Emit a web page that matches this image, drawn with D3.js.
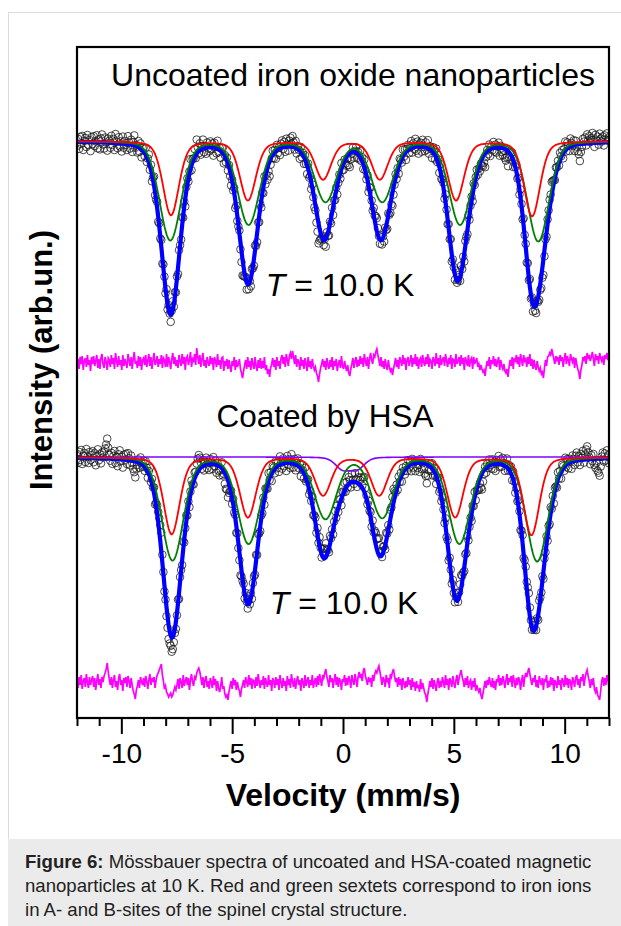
<!DOCTYPE html>
<html><head><meta charset="utf-8">
<script src="https://cdn.jsdelivr.net/npm/d3@7/dist/d3.min.js"></script>
<style>
body{margin:0;background:#fff;}
svg{display:block;}
</style></head><body>
<svg id="chart" width="621" height="926"></svg>
<script>
// ---------------- data ----------------
const velocityDomain = [-12, 12];          // mm/s
const majorTicks = [-10, -5, 0, 5, 10];
const tickLabels = ["-10", "-5", "0", "5", "10"];
const minorTicks = [-12,-11,-9,-8,-7,-6,-4,-3,-2,-1,1,2,3,4,6,7,8,9,11,12];
const intensityDomain = [0, 67.1];          // arb. units

const upperBaseline = 57.7;
const lowerBaseline = 26.1;
const upperResidualOffset = 35.6;
const lowerResidualOffset = 3.5;

// sextet A (red) & B (green), uncoated
const upperRedPos   = [-7.76, -4.29, -0.90, 1.66, 5.10, 8.53];
const upperRedDepth = [7.4, 5.9, 3.8, 3.8, 5.9, 7.5];
const upperGreenPos   = [-7.79, -4.26, -0.79, 1.77, 5.28, 8.81];
const upperGreenDepth = [9.9, 8.3, 6.0, 6.0, 8.3, 10.0];
// sextet A (red) & B (green) + doublet (purple), HSA coated
const lowerRedPos   = [-7.73, -4.29, -0.90, 1.63, 5.06, 8.50];
const lowerRedDepth = [7.7, 6.0, 3.8, 3.8, 6.0, 7.8];
const lowerGreenPos   = [-7.69, -4.26, -0.79, 1.77, 5.25, 8.76];
const lowerGreenDepth = [10.3, 8.6, 6.1, 6.0, 8.6, 10.4];
const lowerDoubletPos   = [-0.02, 0.64];
const lowerDoubletDepth = [1.15, 1.15];

// line widths (FWHM, mm/s) and Lorentzian fraction
const redWidth = 0.85, greenWidth = 1.15, doubletWidth = 0.78;
const redEta = 0.3, greenEta = 0.2, doubletEta = 0.3;

// residuals (tenths of an arb. unit), one per channel, + = up
const residualScale = 0.1;
const upperResidual = [
-4,3,-7,5,-2,6,-8,1,4,-5,7,-3,2,-9,5,-2,
6,-4,1,7,-6,3,-7,4,8,-2,-6,5,0,-8,4,2,
-5,7,-2,4,-7,9,1,-5,6,-3,2,-8,7,-4,3,-1,
-6,8,2,-4,5,-7,3,10,-2,1,-6,6,-4,5,-8,2,
4,-3,7,-5,1,8,-4,5,-7,2,9,-3,0,6,-5,3,
-2,7,-6,4,2,-5,8,-5,5,0,-7,3,9,-2,5,-4,
2,-6,7,1,-4,8,-2,5,-8,4,6,-3,2,10,-5,3,
1,8,-3,14,5,-2,7,-5,3,9,-4,2,-6,5,-1,-4,
6,-2,4,-8,5,1,-5,8,-3,2,-7,4,5,-9,1,-4,
3,-7,2,-5,-10,1,-4,5,-8,2,-5,-2,3,-7,-11,-16,
-9,-3,2,-7,5,-5,1,-8,4,-2,-7,5,-4,-9,2,-6,
4,-7,1,-6,5,-8,-3,-12,-7,-15,-6,-2,4,-5,2,-8,
5,-4,1,-7,4,7,-2,5,-5,8,2,-4,6,9,3,11,
5,-2,7,-5,3,0,-8,5,-4,2,-7,4,-2,-9,5,-5,
1,-7,3,-4,-8,-5,-11,-14,-20,-12,-6,-2,3,-5,1,-8,
4,-3,-7,2,-5,5,-8,1,-4,3,-9,-2,2,-6,6,-4,
-7,1,-5,-9,-3,-11,-14,-7,-2,4,-6,1,5,-5,2,-4,
6,-2,4,-5,8,1,-4,5,-7,3,9,2,-2,7,5,10,
13,7,2,-4,5,-5,1,-7,3,-4,-8,2,-5,-9,-6,-13,
-7,-2,4,-5,2,-7,5,1,-4,7,-2,4,-8,2,5,-4,
1,7,-5,4,-2,8,-4,5,-7,2,4,-5,7,0,-4,5,
-2,8,-5,3,1,-7,5,2,-4,9,-2,4,-6,7,-3,2,
5,-4,8,1,-5,4,-2,7,-7,3,2,-5,8,-2,1,5,
-4,7,-2,4,-8,5,1,-4,7,-5,2,4,-7,5,-2,1,
4,-5,-2,-8,-3,-7,-10,-8,-14,-5,1,-4,5,-7,2,-2,
6,-4,3,-5,1,5,-8,2,-4,-7,-2,-9,-11,-7,-15,-5,
2,-4,5,-7,4,0,7,-2,5,-5,8,2,-4,7,1,3,
-5,5,-2,8,-4,3,-7,2,-4,-8,1,-5,-9,-6,-12,-10,
-16,-6,2,-4,5,6,9,7,13,8,3,-2,6,2,5,-3,
7,1,5,-5,3,9,-2,6,2,-4,8,3,0,5,-6,4,
-2,-7,-10,-17,-8,-3,5,2,6,-2,9,3,7,1,5,10,
3,-4,8,2,6,-2,9,4,1,6,-3,7,3,9,2,5];
const lowerResidual = [
4,-5,6,-2,8,-6,2,5,-4,9,1,-5,6,-2,3,7,
-4,5,-7,2,9,-2,4,-5,6,1,7,10,14,20,11,4,
-2,6,-5,3,8,-4,2,-7,5,9,-2,3,-8,5,0,6,
-4,7,2,-5,5,-2,-8,-11,-16,-7,-3,3,-5,6,1,-2,
5,-4,7,2,-6,3,9,-2,5,1,6,-5,3,8,10,13,
16,19,8,2,-6,-3,-9,-11,-14,-12,-10,-14,-12,-8,-4,-7,
-2,4,-6,5,1,-5,8,-3,2,6,-2,5,-7,3,9,1,
-3,6,4,10,13,15,11,5,-2,6,-5,3,7,-4,2,-6,
5,1,-5,7,-2,4,-8,2,-5,-9,-3,6,-6,-3,-11,-14,
-12,-17,-9,-3,2,-6,5,-2,3,-7,1,-5,-8,-14,-6,-2,
3,-5,6,1,-4,8,-2,5,-6,3,2,-5,6,-3,9,1,
-5,3,-2,7,-6,5,0,-4,8,-2,3,-8,5,2,-5,6,
-2,4,-7,8,1,-5,5,-3,2,-8,7,-2,4,-5,9,1,
-4,5,-6,2,7,-2,3,-8,5,1,-5,8,-3,2,6,-5,
3,-2,8,-5,1,5,-4,7,-2,9,3,-3,8,5,10,14,
6,2,-4,8,1,5,-5,3,9,-2,6,-4,5,2,-7,4,
1,8,-3,5,-2,7,3,-5,8,2,-2,9,3,-4,6,11,
5,9,2,12,15,7,3,-2,6,1,5,-4,8,2,9,12,
10,14,17,11,5,-2,6,3,-4,8,2,5,-5,9,6,11,
14,7,1,5,-4,6,-2,4,-7,5,0,-5,2,-4,6,-2,
3,-7,5,-4,1,-8,2,-5,-2,-9,4,-6,0,-5,-10,-12,
-19,-11,-5,2,-4,5,-6,3,-2,-8,1,5,-5,2,-4,6,
1,-5,8,-2,4,-7,5,2,-4,7,0,-5,3,8,-2,5,
9,13,6,2,-4,5,-2,7,-5,1,3,-7,2,-4,5,-8,
-2,-6,-9,-5,-12,-16,-10,-4,2,-5,3,-2,6,0,-4,5,
-5,2,-7,4,1,8,-3,5,-2,7,2,-5,3,9,-2,5,
1,7,-4,8,2,-5,5,-2,6,3,-7,2,8,-4,5,10,
6,11,15,9,3,-2,5,1,8,-4,3,-5,7,2,-2,5,
-7,4,1,8,-5,2,-4,6,-2,5,-8,3,0,-5,7,-2,
3,-7,5,2,-4,8,-2,5,-5,4,1,-7,6,2,-4,5,
8,-2,4,-5,6,2,9,-3,5,10,13,7,2,-5,4,-2,
5,-6,-9,-4,-12,-14,-17,-8,2,6,-3,5,-2,8,3,-5];

// ---------------- drawing ----------------
const svg = d3.select("#chart");
const W = 621, H = 926;
const plot = {left: 77, right: 609, top: 47, bottom: 718};
const FONT = "'Liberation Sans', Arial, Helvetica, sans-serif";

// figure border + caption
svg.append("rect").attr("x", 8.5).attr("y", 12.5).attr("width", W).attr("height", H)
  .attr("fill", "#fff").attr("stroke", "#dcdcdc").attr("stroke-width", 1);
svg.append("rect").attr("x", 8).attr("y", 839).attr("width", W - 8).attr("height", H - 839)
  .attr("fill", "#ebebeb");

const x = d3.scaleLinear().domain(velocityDomain).range([plot.left, plot.right]);
const y = d3.scaleLinear().domain(intensityDomain).range([plot.bottom, plot.top]);

function channelVelocities(n) {
  const step = (velocityDomain[1] - velocityDomain[0]) / (n - 1);
  return d3.range(n).map(i => velocityDomain[0] + i * step);
}

function profile(v, v0, depth, w, eta) {
  const t = (v - v0) / (w / 2);
  const L = 1 / (1 + t * t);
  const G = Math.exp(-Math.LN2 * t * t);
  return depth * (eta * L + (1 - eta) * G);
}
function component(vel, pos, depth, w, eta) {
  return vel.map(v => d3.sum(pos, (p, k) => profile(v, p, depth[k], w, eta)));
}

svg.append("defs").append("clipPath").attr("id", "clip")
  .append("rect").attr("x", plot.left).attr("y", plot.top)
  .attr("width", plot.right - plot.left).attr("height", plot.bottom - plot.top);
const g = svg.append("g").attr("clip-path", "url(#clip)");

const line = d3.line().x(d => x(d[0])).y(d => y(d[1]));

function drawSpectrum(base, redPos, redDepth, greenPos, greenDepth, resid, residOffset, dPos, dDepth) {
  const vel = channelVelocities(resid.length);
  const red = component(vel, redPos, redDepth, redWidth, redEta);
  const green = component(vel, greenPos, greenDepth, greenWidth, greenEta);
  const doublet = dPos ? component(vel, dPos, dDepth, doubletWidth, doubletEta) : null;
  const total = vel.map((v, i) => base - red[i] - green[i] - (doublet ? doublet[i] : 0));
  const pts = vel.map((v, i) => [v, total[i] + resid[i] * residualScale]);

  g.append("g").selectAll("circle").data(pts).join("circle")
    .attr("cx", d => x(d[0])).attr("cy", d => y(d[1])).attr("r", 3.8)
    .attr("fill", "none").attr("stroke", "#1a1a1a").attr("stroke-width", 0.8);

  g.append("path").datum(vel.map((v, i) => [v, residOffset + resid[i] * residualScale]))
    .attr("d", line).attr("fill", "none").attr("stroke", "#ff00ff").attr("stroke-width", 1.7);

  if (doublet) {
    g.append("path").datum(vel.map((v, i) => [v, base - doublet[i]]))
      .attr("d", line).attr("fill", "none").attr("stroke", "#8000ff").attr("stroke-width", 1.6);
  }
  g.append("path").datum(vel.map((v, i) => [v, total[i]]))
    .attr("d", line).attr("fill", "none").attr("stroke", "#0000ff").attr("stroke-width", 4.2)
    .attr("stroke-linejoin", "round");
  g.append("path").datum(vel.map((v, i) => [v, base - green[i]]))
    .attr("d", line).attr("fill", "none").attr("stroke", "#008000").attr("stroke-width", 1.8);
  g.append("path").datum(vel.map((v, i) => [v, base - red[i]]))
    .attr("d", line).attr("fill", "none").attr("stroke", "#ff0000").attr("stroke-width", 1.8);
}

drawSpectrum(upperBaseline, upperRedPos, upperRedDepth, upperGreenPos, upperGreenDepth,
  upperResidual, upperResidualOffset);
drawSpectrum(lowerBaseline, lowerRedPos, lowerRedDepth, lowerGreenPos, lowerGreenDepth,
  lowerResidual, lowerResidualOffset, lowerDoubletPos, lowerDoubletDepth);

// frame
svg.append("rect").attr("x", plot.left).attr("y", plot.top)
  .attr("width", plot.right - plot.left).attr("height", plot.bottom - plot.top)
  .attr("fill", "none").attr("stroke", "#000").attr("stroke-width", 2.2);

// x axis
const axMinor = d3.axisBottom(x).tickValues(minorTicks).tickSize(8).tickFormat("");
const axMajor = d3.axisBottom(x).tickValues(majorTicks).tickSize(16)
  .tickFormat((d, i) => tickLabels[i]).tickPadding(9);
const gMinor = svg.append("g").attr("transform", `translate(0,${plot.bottom})`).call(axMinor);
const gMajor = svg.append("g").attr("transform", `translate(0,${plot.bottom})`).call(axMajor);
[gMinor, gMajor].forEach(a => {
  a.select(".domain").remove();
  a.selectAll("line").attr("stroke", "#000").attr("stroke-width", 2);
});
gMajor.selectAll("text").attr("font-family", FONT).attr("font-size", 28).attr("fill", "#000");

// texts
function txt(s, px, py, size, weight) {
  return svg.append("text").attr("x", px).attr("y", py).attr("font-family", FONT)
    .attr("font-size", size).attr("font-weight", weight || "normal")
    .attr("text-anchor", "middle").attr("fill", "#000").text(s);
}
txt("Velocity (mm/s)", 343, 806, 32, "bold");
svg.append("text").attr("transform", "translate(52,360) rotate(-90)")
  .attr("font-family", FONT).attr("font-size", 31).attr("font-weight", "bold")
  .attr("text-anchor", "middle").attr("fill", "#000").text("Intensity (arb.un.)");
txt("Uncoated iron oxide nanoparticles", 353, 86, 32);
txt("Coated by HSA", 325, 427, 31.5);
function tLabel(px, py) {
  const t = svg.append("text").attr("x", px).attr("y", py).attr("font-family", FONT)
    .attr("font-size", 32).attr("text-anchor", "middle").attr("fill", "#000");
  t.append("tspan").attr("font-style", "italic").text("T");
  t.append("tspan").text(" = 10.0 K");
}
tLabel(340, 296);
tLabel(344, 614);

// caption
const cap = svg.append("text").attr("font-family", FONT).attr("font-size", 18.6).attr("fill", "#222");
const l1 = cap.append("tspan").attr("x", 25).attr("y", 868);
l1.append("tspan").attr("font-weight", "bold").text("Figure 6:");
l1.append("tspan").text(" Mössbauer spectra of uncoated and HSA-coated magnetic");
cap.append("tspan").attr("x", 25).attr("y", 892)
  .text("nanoparticles at 10 K. Red and green sextets correspond to iron ions");
cap.append("tspan").attr("x", 25).attr("y", 916)
  .text("in A- and B-sites of the spinel crystal structure.");
</script>
</body></html>
